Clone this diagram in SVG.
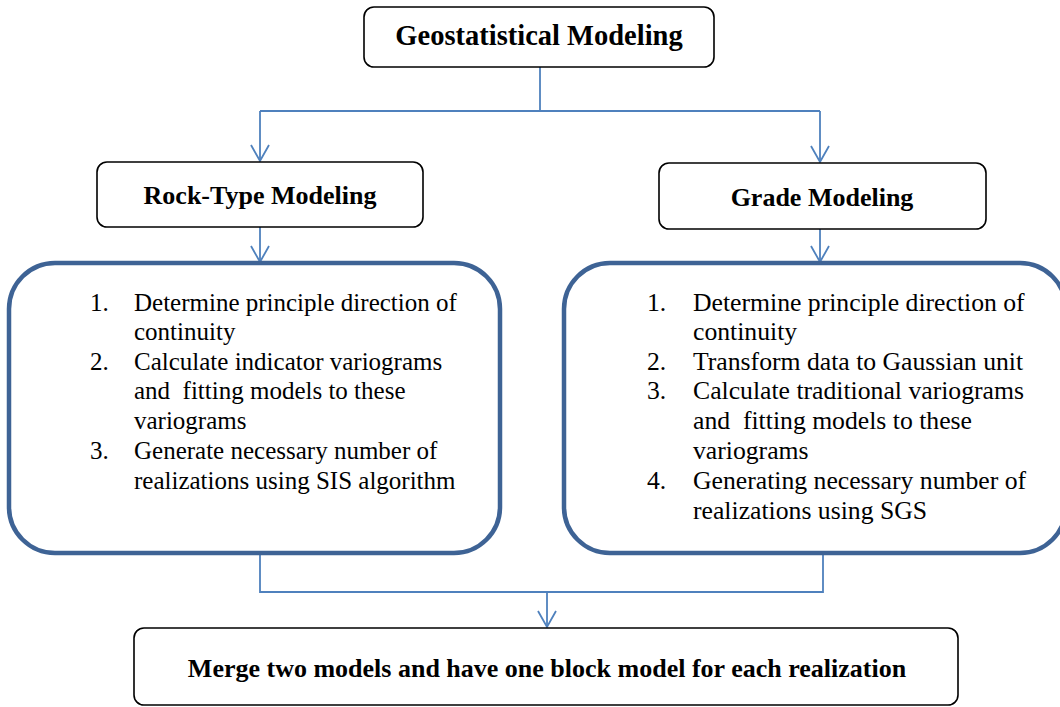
<svg xmlns="http://www.w3.org/2000/svg" width="1060" height="707" viewBox="0 0 1060 707">
<defs>
<style>
.hdr{fill:#fff;stroke:#000;stroke-width:1.6}
.big{fill:#fff;stroke:#3e6395;stroke-width:4.5}
.t{font-family:'Liberation Serif','Tinos','Times New Roman',serif;fill:#000}
.b{font-weight:bold;font-size:26px;text-anchor:middle}
.n{font-size:25px}
.n2{font-size:25.7px}
.con{fill:none;stroke:#4f81bd;stroke-width:1.8}
</style>
<marker id="ah" viewBox="0 0 20 20" refX="18" refY="10" markerWidth="20" markerHeight="20" markerUnits="userSpaceOnUse" orient="auto">
<path d="M2,1 L18,10 L2,19" fill="none" stroke="#4f81bd" stroke-width="1.8"/>
</marker>
</defs>
<rect width="1060" height="707" fill="#fff"/>
<g id="connectors">
<path class="con" d="M540,67 V111"/>
<path class="con" d="M260,111 H820"/>
<path class="con" d="M260,111 V161" marker-end="url(#ah)"/>
<path class="con" d="M820,111 V162" marker-end="url(#ah)"/>
<path class="con" d="M260,227 V262" marker-end="url(#ah)"/>
<path class="con" d="M820,229 V262" marker-end="url(#ah)"/>
<path class="con" d="M260,553 V592 H823 V553"/>
<path class="con" d="M547,592 V627" marker-end="url(#ah)"/>
</g>
<g id="geo">
<rect class="hdr" x="364" y="7" width="350" height="60" rx="10"/>
<text class="t b" x="539" y="45" style="font-size:28.5px">Geostatistical Modeling</text>
</g>
<g id="rock">
<rect class="hdr" x="97" y="162" width="326" height="65" rx="10"/>
<text class="t b" x="260" y="204">Rock-Type Modeling</text>
</g>
<g id="grade">
<rect class="hdr" x="659" y="163" width="327" height="66" rx="10"/>
<text class="t b" x="822" y="206">Grade Modeling</text>
</g>
<g id="rock-steps">
<rect class="big" x="9" y="263" width="491" height="290" rx="46"/>
<text class="t n" x="90" y="311">1.</text>
<text class="t n" x="134" y="311">Determine principle direction of</text>
<text class="t n" x="134" y="340">continuity</text>
<text class="t n" x="90" y="370">2.</text>
<text class="t n" x="134" y="370">Calculate indicator variograms</text>
<text class="t n" x="134" y="399" xml:space="preserve">and  fitting models to these</text>
<text class="t n" x="134" y="429">variograms</text>
<text class="t n" x="90" y="459">3.</text>
<text class="t n" x="134" y="459">Generate necessary number of</text>
<text class="t n" x="134" y="489">realizations using SIS algorithm</text>
</g>
<g id="grade-steps">
<rect class="big" x="564" y="263" width="502" height="290" rx="46"/>
<text class="t n2" x="647" y="311">1.</text>
<text class="t n2" x="693" y="311">Determine principle direction of</text>
<text class="t n2" x="693" y="340">continuity</text>
<text class="t n2" x="647" y="370">2.</text>
<text class="t n2" x="693" y="370">Transform data to Gaussian unit</text>
<text class="t n2" x="647" y="399">3.</text>
<text class="t n2" x="693" y="399">Calculate traditional variograms</text>
<text class="t n2" x="693" y="429" xml:space="preserve">and  fitting models to these</text>
<text class="t n2" x="693" y="459">variograms</text>
<text class="t n2" x="647" y="489">4.</text>
<text class="t n2" x="693" y="489">Generating necessary number of</text>
<text class="t n2" x="693" y="519">realizations using SGS</text>
</g>
<g id="merge">
<rect class="hdr" x="134" y="628" width="824" height="77" rx="10"/>
<text class="t b" x="547" y="677">Merge two models and have one block model for each realization</text>
</g>
</svg>
